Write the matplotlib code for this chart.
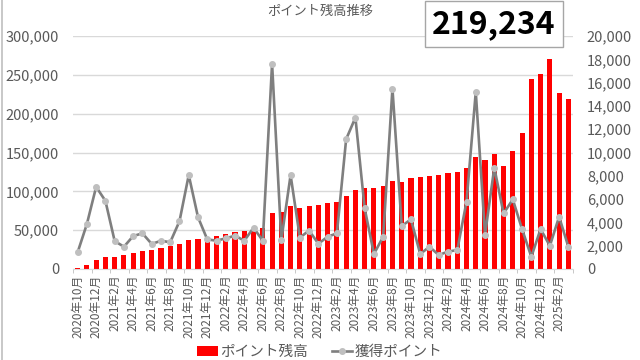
import numpy as np
import matplotlib.pyplot as plt
from matplotlib.lines import Line2D
from matplotlib.ticker import FuncFormatter

plt.rcParams['font.family'] = ['Noto Sans CJK JP', 'DejaVu Sans']

# months 2020-10 .. 2025-03
months = []
y, m = 2020, 10
for i in range(54):
    months.append("%d年%d月" % (y, m))
    m += 1
    if m > 12:
        m = 1
        y += 1

balance = [1500, 5000, 11500, 15000, 16000, 17500, 21000, 23000, 24000, 26500,
           29000, 32500, 37500, 39000, 40000, 43000, 45000, 47000, 49000, 51000,
           53000, 71500, 73000, 81000, 78500, 80500, 82500, 85000, 86500, 94500,
           102000, 103800, 104200, 106700, 113600, 112300, 116600, 118000, 120000, 121300,
           123000, 124300, 129500, 144000, 140200, 147800, 132500, 151700, 174500, 244000,
           250800, 270500, 226000, 219234]

earned = [1430, 3860, 7050, 5850, 2400, 1910, 2830, 3060, 2150, 2420,
          2300, 4100, 8060, 4450, 2540, 2430, 2630, 2860, 2430, 3540,
          2430, 17630, 2500, 8060, 2700, 3300, 2170, 2770, 3060, 11140,
          13000, 5200, 1290, 2770, 15490, 3690, 4260, 1290, 1910, 1200,
          1490, 1630, 5770, 15200, 2940, 8700, 4770, 5970, 3420, 1050,
          3430, 1990, 4480, 1910]

latest = "219,234"
title = "ポイント残高推移"

x = np.arange(len(months))
grey = '#595959'

fig = plt.figure(figsize=(6.4, 3.6), dpi=100)
ax = fig.add_axes([73 / 640, 91 / 360, 500 / 640, 233 / 360])
ax2 = ax.twinx()

bars = ax.bar(x, balance, width=0.55, color='#FF0000', zorder=2, label='ポイント残高')
ax.set_xlim(-0.5, len(months) - 0.5)
ax.set_ylim(0, 300000)
ax.set_yticks(np.arange(0, 300001, 50000))
ax.yaxis.set_major_formatter(FuncFormatter(lambda v, p: '{:,.0f}'.format(v)))
ax.grid(axis='y', color='#D9D9D9', linewidth=1, zorder=0)
ax.set_axisbelow(True)

ax.set_xticks(x[::2])
ax.set_xticklabels(months[::2], rotation=90, fontsize=8.5, color=grey)
ax.set_xticks(np.arange(-0.5, len(months), 2), minor=True)
ax.tick_params(axis='x', which='major', length=0, pad=4)
ax.tick_params(axis='x', which='minor', length=3, color='#BFBFBF')
ax.tick_params(axis='y', length=0, labelsize=10.5, labelcolor=grey, pad=10)

ln, = ax2.plot(x, earned, color='#7F7F7F', linewidth=1.9, marker='o', markersize=4,
               markerfacecolor='#BFBFBF', markeredgecolor='#BFBFBF', zorder=3, label='獲得ポイント')
ax2.set_ylim(0, 20000)
ax2.set_yticks(np.arange(0, 20001, 2000))
ax2.yaxis.set_major_formatter(FuncFormatter(lambda v, p: '{:,.0f}'.format(v)))
ax2.tick_params(axis='y', length=0, labelsize=10.5, labelcolor=grey, pad=10)

for a in (ax, ax2):
    for s in ('top', 'left', 'right'):
        a.spines[s].set_visible(False)
ax.spines['bottom'].set_color('#D9D9D9')
ax2.spines['bottom'].set_visible(False)

fig.text(0.5, 0.967, title, ha='center', va='center', fontsize=9.5, color=grey)

fig.text(494 / 640, 1 - 24 / 360, latest, ha='center', va='center', fontsize=23,
         fontweight='bold', color='black',
         bbox=dict(boxstyle='square,pad=0.22', facecolor='white', edgecolor='#A6A6A6', linewidth=1))

fig.legend(handles=[bars, ln], loc='center', bbox_to_anchor=(0.5, 1 - 352 / 360), ncol=2,
           frameon=False, fontsize=10.5, labelcolor=grey, handlelength=1.4,
           handletextpad=0.2, columnspacing=1.6)

fig.add_artist(Line2D([2 / 640, 2 / 640], [0, 1], color='#BFBFBF', linewidth=1.2))

fig.savefig('out.png', dpi=100)
